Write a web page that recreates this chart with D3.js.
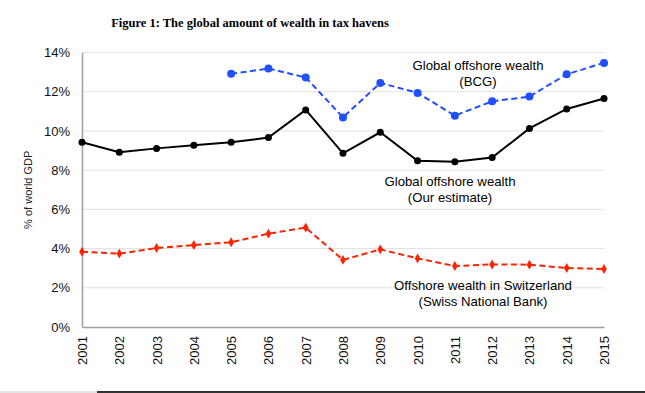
<!DOCTYPE html>
<html>
<head>
<meta charset="utf-8">
<script src="https://cdn.jsdelivr.net/npm/d3@7"></script>
<style>
  body { margin: 0; background: #fff; }
  svg { display: block; }
</style>
</head>
<body>
<div id="vis-container"></div>
<script>
var years = [2001, 2002, 2003, 2004, 2005, 2006, 2007, 2008, 2009, 2010, 2011, 2012, 2013, 2014, 2015];
var ourEstimate = [9.42, 8.91, 9.11, 9.27, 9.42, 9.66, 11.07, 8.86, 9.93, 8.48, 8.43, 8.64, 10.13, 11.12, 11.65];
var bcgYears = [2005, 2006, 2007, 2008, 2009, 2010, 2011, 2012, 2013, 2014, 2015];
var bcg = [12.91, 13.18, 12.73, 10.69, 12.45, 11.94, 10.78, 11.51, 11.75, 12.89, 13.47];
var swiss = [3.84, 3.74, 4.03, 4.18, 4.32, 4.76, 5.07, 3.42, 3.96, 3.50, 3.11, 3.19, 3.18, 3.01, 2.96];
var yTicks = [0, 2, 4, 6, 8, 10, 12, 14];

var W = 645, H = 393;
var margin = {top: 52.5, right: 41, bottom: 66, left: 82};
var width = W - margin.left - margin.right,
    height = H - margin.top - margin.bottom;

var svg = d3.select("#vis-container").append("svg")
    .attr("width", W)
    .attr("height", H);

// title
svg.append("text")
    .attr("x", 250)
    .attr("y", 27)
    .attr("text-anchor", "middle")
    .style("font-family", "'Liberation Serif', 'DejaVu Serif', serif")
    .style("font-weight", "bold")
    .style("font-size", "12.5px")
    .text("Figure 1: The global amount of wealth in tax havens");

var g = svg.append("g")
    .attr("transform", "translate(" + margin.left + "," + margin.top + ")");

var x = d3.scalePoint().domain(years).range([0, width]);
var y = d3.scaleLinear().domain([0, 14]).range([height, 0]);

// gridlines
g.selectAll(".grid")
    .data(yTicks.slice(1))
    .enter().append("line")
    .attr("x1", 0).attr("x2", width)
    .attr("y1", function(d) { return y(d); })
    .attr("y2", function(d) { return y(d); })
    .attr("stroke", "#e2e2e2")
    .attr("stroke-width", 1);

// y axis
var yAxis = g.append("g")
    .call(d3.axisLeft(y).tickValues(yTicks).tickSize(0).tickPadding(12)
        .tickFormat(function(d) { return d + "%"; }));
yAxis.select(".domain").attr("stroke", "#a0a0a0").attr("stroke-width", 1.5);
yAxis.selectAll("text")
    .style("font-family", "'Liberation Sans', Arial, sans-serif")
    .style("font-size", "13px")
    .attr("fill", "#111");

// x axis
var xAxis = g.append("g")
    .attr("transform", "translate(0," + height + ")")
    .call(d3.axisBottom(x).tickSize(0).tickPadding(0));
xAxis.select(".domain").attr("stroke", "#a0a0a0").attr("stroke-width", 1.5);
xAxis.selectAll("text")
    .style("font-family", "'Liberation Sans', Arial, sans-serif")
    .style("font-size", "13px")
    .attr("fill", "#111")
    .attr("text-anchor", "end")
    .attr("transform", "rotate(-90)")
    .attr("x", -9)
    .attr("y", 0)
    .attr("dy", "0.35em");

// y label
svg.append("text")
    .attr("transform", "translate(32," + (margin.top + height / 2) + ") rotate(-90)")
    .attr("text-anchor", "middle")
    .style("font-family", "'Liberation Sans', Arial, sans-serif")
    .style("font-size", "11px")
    .attr("fill", "#222")
    .text("% of world GDP");

var line = d3.line()
    .x(function(d) { return x(d[0]); })
    .y(function(d) { return y(d[1]); });

var series = [
    {name: "swiss", color: "#ff2200", dash: "6,3.5", r: 3, symbol: "diamond", pts: d3.zip(years, swiss)},
    {name: "our", color: "#000000", dash: null, r: 3.5, symbol: "circle", pts: d3.zip(years, ourEstimate)},
    {name: "bcg", color: "#1f4fff", dash: "6,3.5", r: 4, symbol: "circle", pts: d3.zip(bcgYears, bcg)}
];

series.forEach(function(s) {
    g.append("path")
        .datum(s.pts)
        .attr("fill", "none")
        .attr("stroke", s.color)
        .attr("stroke-width", 2)
        .attr("stroke-dasharray", s.dash)
        .attr("d", line);
    if (s.symbol === "circle") {
        g.selectAll(".pt-" + s.name)
            .data(s.pts)
            .enter().append("circle")
            .attr("cx", function(d) { return x(d[0]); })
            .attr("cy", function(d) { return y(d[1]); })
            .attr("r", s.r)
            .attr("fill", s.color);
    } else {
        g.selectAll(".pt-" + s.name)
            .data(s.pts)
            .enter().append("path")
            .attr("transform", function(d) { return "translate(" + x(d[0]) + "," + y(d[1]) + ")"; })
            .attr("d", d3.symbol().type(d3.symbolDiamond).size(28))
            .attr("fill", s.color);
    }
});

// annotations
var notes = [
    {x: 478, y: 70, lines: ["Global offshore wealth", "(BCG)"]},
    {x: 450, y: 186, lines: ["Global offshore wealth", "(Our estimate)"]},
    {x: 483, y: 290, lines: ["Offshore wealth in Switzerland", "(Swiss National Bank)"]}
];
notes.forEach(function(n) {
    var t = svg.append("text")
        .attr("text-anchor", "middle")
        .style("font-family", "'Liberation Sans', Arial, sans-serif")
        .style("font-size", "13.2px")
        .attr("fill", "#000");
    n.lines.forEach(function(l, i) {
        t.append("tspan").attr("x", n.x).attr("y", n.y + i * 16).text(l);
    });
});

// scan strip at bottom edge
svg.append("rect").attr("x", 0).attr("y", 391).attr("width", 97).attr("height", 2).attr("fill", "#e4e4e4");
svg.append("rect").attr("x", 97).attr("y", 391).attr("width", 548).attr("height", 2).attr("fill", "#333");
</script>
</body>
</html>
